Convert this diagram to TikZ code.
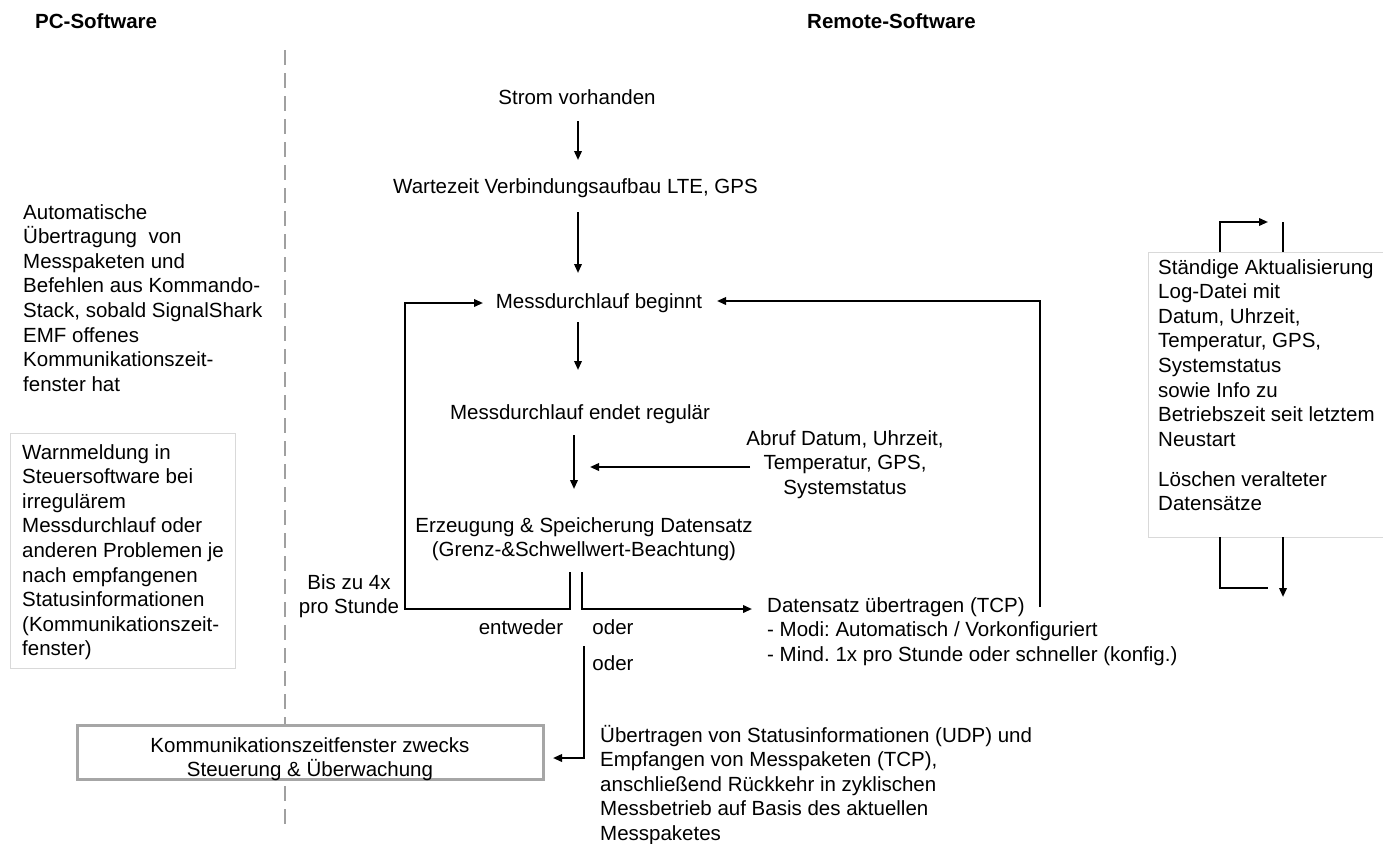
\documentclass[tikz,border=0pt]{standalone}
\usepackage{fontspec}
\setmainfont{Liberation Sans}
\usetikzlibrary{arrows.meta}
\frenchspacing
\newcommand{\ltab}[1]{\begin{tabular}[t]{@{}l@{}}#1\end{tabular}}
\newcommand{\ctab}[1]{\begin{tabular}[t]{@{}c@{}}#1\end{tabular}}
\definecolor{dashgray}{HTML}{A0A0A0}
\definecolor{boxgray}{HTML}{A6A6A6}
\definecolor{lightgray}{HTML}{D9D9D9}
\begin{document}
\begin{tikzpicture}[x=1pt,y=-1pt,
  every node/.style={inner sep=0pt, font=\fontsize{20.5}{24.6}\selectfont},
  txt/.style={anchor=base},
  ltxt/.style={anchor=base west},
  title/.style={anchor=base west, font=\fontsize{20.5}{24.6}\selectfont\bfseries},
  arr/.style={line width=2pt, -{Triangle[length=9pt,width=7.5pt]}},
  ln/.style={line width=2pt},
  divider/.style={dashgray, line width=2pt, dash pattern=on 15pt off 8pt},
  thinbox/.style={draw=lightgray, line width=1pt},
  commbox/.style={draw=boxgray, fill=white, line width=3pt}]
\useasboundingbox (0,0) rectangle (1383,843);

% titles and divider
\node[title] (pc) at (35,29) {PC-Software};
\node[title] (remote) at (807,29) {Remote-Software};
\coordinate (dtop) at (285,50);
\coordinate (dbot) at (285,828);
\draw[divider] (dtop) -- (dbot);

% left column
\node[ltxt] (auto) at (23,219) {\ltab{Automatische\\Übertragung\ \ von\\Messpaketen und\\Befehlen aus Kommando-\\Stack, sobald SignalShark\\EMF offenes\\Kommunikationszeit-\\fenster hat}};
\draw[thinbox] (10,433) rectangle (235,668);
\node[ltxt] (warn) at (22,459) {\ltab{Warnmeldung in\\Steuersoftware bei\\irregulärem\\Messdurchlauf oder\\anderen Problemen je\\nach empfangenen\\Statusinformationen\\(Kommunikationszeit-\\fenster)}};
\draw[commbox] (77,725) rectangle (543,779);
\node[txt] (comm) at (310,752) {\ctab{Kommunikationszeitfenster zwecks\\Steuerung \& Überwachung}};

% main flow texts
\node[txt] (strom) at (577,104) {Strom vorhanden};
\node[txt] (warte) at (575.5,193) {Wartezeit Verbindungsaufbau LTE, GPS};
\node[txt] (beginnt) at (599,308) {Messdurchlauf beginnt};
\node[txt] (endet) at (580,419) {Messdurchlauf endet regulär};
\node[txt] (abruf) at (845,445) {\ctab{Abruf Datum, Uhrzeit,\\Temperatur, GPS,\\Systemstatus}};
\node[txt] (erz) at (584,532) {\ctab{Erzeugung \& Speicherung Datensatz\\(Grenz-\&Schwellwert-Beachtung)}};
\node[txt] (bis) at (349,589) {\ctab{Bis zu 4x\\pro Stunde}};
\node[txt] (entweder) at (521,634) {entweder};
\node[txt] (oder1) at (613,634) {oder};
\node[txt] (oder2) at (613,670) {oder};
\node[ltxt] (dat) at (767,612) {\ltab{Datensatz übertragen (TCP)\\- Modi: Automatisch / Vorkonfiguriert\\- Mind. 1x pro Stunde oder schneller (konfig.)}};
\node[ltxt] (uebertr) at (600,742) {\ltab{Übertragen von Statusinformationen (UDP) und\\Empfangen von Messpaketen (TCP),\\anschließend Rückkehr in zyklischen\\Messbetrieb auf Basis des aktuellen\\Messpaketes}};

% right box
\draw[thinbox] (1390,252) -- (1148,252) -- (1148,537) -- (1390,537);
\node[ltxt] (log) at (1158,274) {\ltab{Ständige Aktualisierung\\Log-Datei mit\\Datum, Uhrzeit,\\Temperatur, GPS,\\Systemstatus\\sowie Info zu\\Betriebszeit seit letztem\\Neustart\\[15.5pt]Löschen veralteter\\Datensätze}};

% connector coordinates
\coordinate (a1s) at (578,121);
\coordinate (a1e) at (578,160);
\coordinate (a2s) at (578,212);
\coordinate (a2e) at (578,273);
\coordinate (a3s) at (578,322);
\coordinate (a3e) at (578,370);
\coordinate (a4s) at (574,435);
\coordinate (a4e) at (574,489);
\coordinate (abs) at (750,467);
\coordinate (abe) at (590,467);
\coordinate (lbs) at (570,572);
\coordinate (lbc) at (570,609);
\coordinate (lbl) at (405,609);
\coordinate (lbu) at (405,303);
\coordinate (lbe) at (483,303);
\coordinate (rbs) at (582,572);
\coordinate (rbc) at (582,609);
\coordinate (rbe) at (752,609);
\coordinate (rls) at (1040,607);
\coordinate (rlu) at (1040,301);
\coordinate (rle) at (717,301);
\coordinate (tbs) at (584,646);
\coordinate (tbc) at (584,758);
\coordinate (tbe) at (553,758);
\coordinate (q1) at (1220,252);
\coordinate (q2) at (1220,222);
\coordinate (q3) at (1268,222);
\coordinate (q4) at (1283,222);
\coordinate (q5) at (1283,252);
\coordinate (p1) at (1220,537);
\coordinate (p2) at (1220,588);
\coordinate (p3) at (1268,588);
\coordinate (p4) at (1283,537);
\coordinate (p5) at (1283,597);

% connectors
\draw[arr] (a1s) -- (a1e);
\draw[arr] (a2s) -- (a2e);
\draw[arr] (a3s) -- (a3e);
\draw[arr] (a4s) -- (a4e);
\draw[arr] (abs) -- (abe);
\draw[arr] (lbs) -- (lbc) -- (lbl) -- (lbu) -- (lbe);
\draw[arr] (rbs) -- (rbc) -- (rbe);
\draw[arr] (rls) -- (rlu) -- (rle);
\draw[arr] (tbs) -- (tbc) -- (tbe);
\draw[arr] (q1) -- (q2) -- (q3);
\draw[ln] (q4) -- (q5);
\draw[ln] (p1) -- (p2) -- (p3);
\draw[arr] (p4) -- (p5);
\end{tikzpicture}
\end{document}
